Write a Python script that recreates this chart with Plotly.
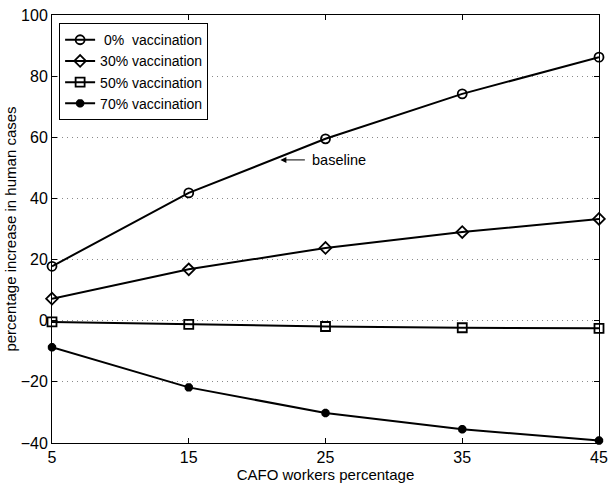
import plotly.graph_objects as go

workers = [5, 15, 25, 35, 45]
vac0 = [17.8, 41.8, 59.5, 74.2, 86.2]
vac30 = [7.2, 16.8, 23.8, 29.0, 33.3]
vac50 = [-0.4, -1.2, -1.9, -2.3, -2.5]
vac70 = [-8.7, -21.8, -30.2, -35.5, -39.2]
names = [" 0%  vaccination", "30% vaccination", "50% vaccination", "70% vaccination"]
series = [vac0, vac30, vac50, vac70]
symbols = ["circle-open", "diamond-open", "square-open", "asterisk-open"]

FONT = "Liberation Sans, Arial, Helvetica, sans-serif"

fig = go.Figure()
for nm, ys, sym in zip(names, series, symbols):
    is_ast = sym == "asterisk-open"
    fig.add_trace(go.Scatter(
        x=workers, y=ys, name=nm, mode="lines+markers",
        line=dict(color="black", width=2),
        marker=dict(symbol=sym, size=7 if is_ast else 9,
                    color="black", line=dict(color="black", width=3 if is_ast else 1.8)),
        cliponaxis=False,
    ))

fig.add_annotation(x=21.7, y=52.6, ax=23.6, ay=52.6, axref="x", ayref="y",
                   xref="x", yref="y", text="", showarrow=True,
                   arrowhead=2, arrowsize=1.2, arrowwidth=1, arrowcolor="black")
fig.add_annotation(x=23.85, y=52.6, xref="x", yref="y", text="baseline",
                   showarrow=False, xanchor="left", yanchor="middle",
                   font=dict(family=FONT, size=14.5, color="black"))

axis_common = dict(
    showline=True, linecolor="black", linewidth=1, mirror="ticks",
    ticks="inside", ticklen=5, tickcolor="black", zeroline=False,
    automargin=False,
    tickfont=dict(family=FONT, size=16, color="black"),
)
fig.update_xaxes(range=[5, 45], tickvals=workers, showgrid=False,
                 title=dict(text="CAFO workers percentage", standoff=0,
                            font=dict(family=FONT, size=15, color="black")),
                 **axis_common)
fig.update_yaxes(range=[-40, 100], tickvals=[-40, -20, 0, 20, 40, 60, 80, 100],
                 showgrid=True, gridcolor="#8a8a8a", griddash="1px,4px", gridwidth=1,
                 title=dict(text="percentage increase in human cases", standoff=0,
                            font=dict(family=FONT, size=15, color="black")),
                 **axis_common)

fig.update_layout(
    width=608, height=485,
    margin=dict(l=52, r=9, t=15, b=42),
    paper_bgcolor="white", plot_bgcolor="white",
    font=dict(family=FONT, size=14, color="black"),
    legend=dict(x=0.013, y=0.981, xanchor="left", yanchor="top",
                bordercolor="black", borderwidth=1, bgcolor="white",
                font=dict(family=FONT, size=14, color="black"),
                tracegroupgap=0, itemwidth=30),
    showlegend=True,
)

fig.write_html("out.html", config={"displayModeBar": False},
               post_script="document.body.style.margin='0';document.body.style.overflow='hidden';")
